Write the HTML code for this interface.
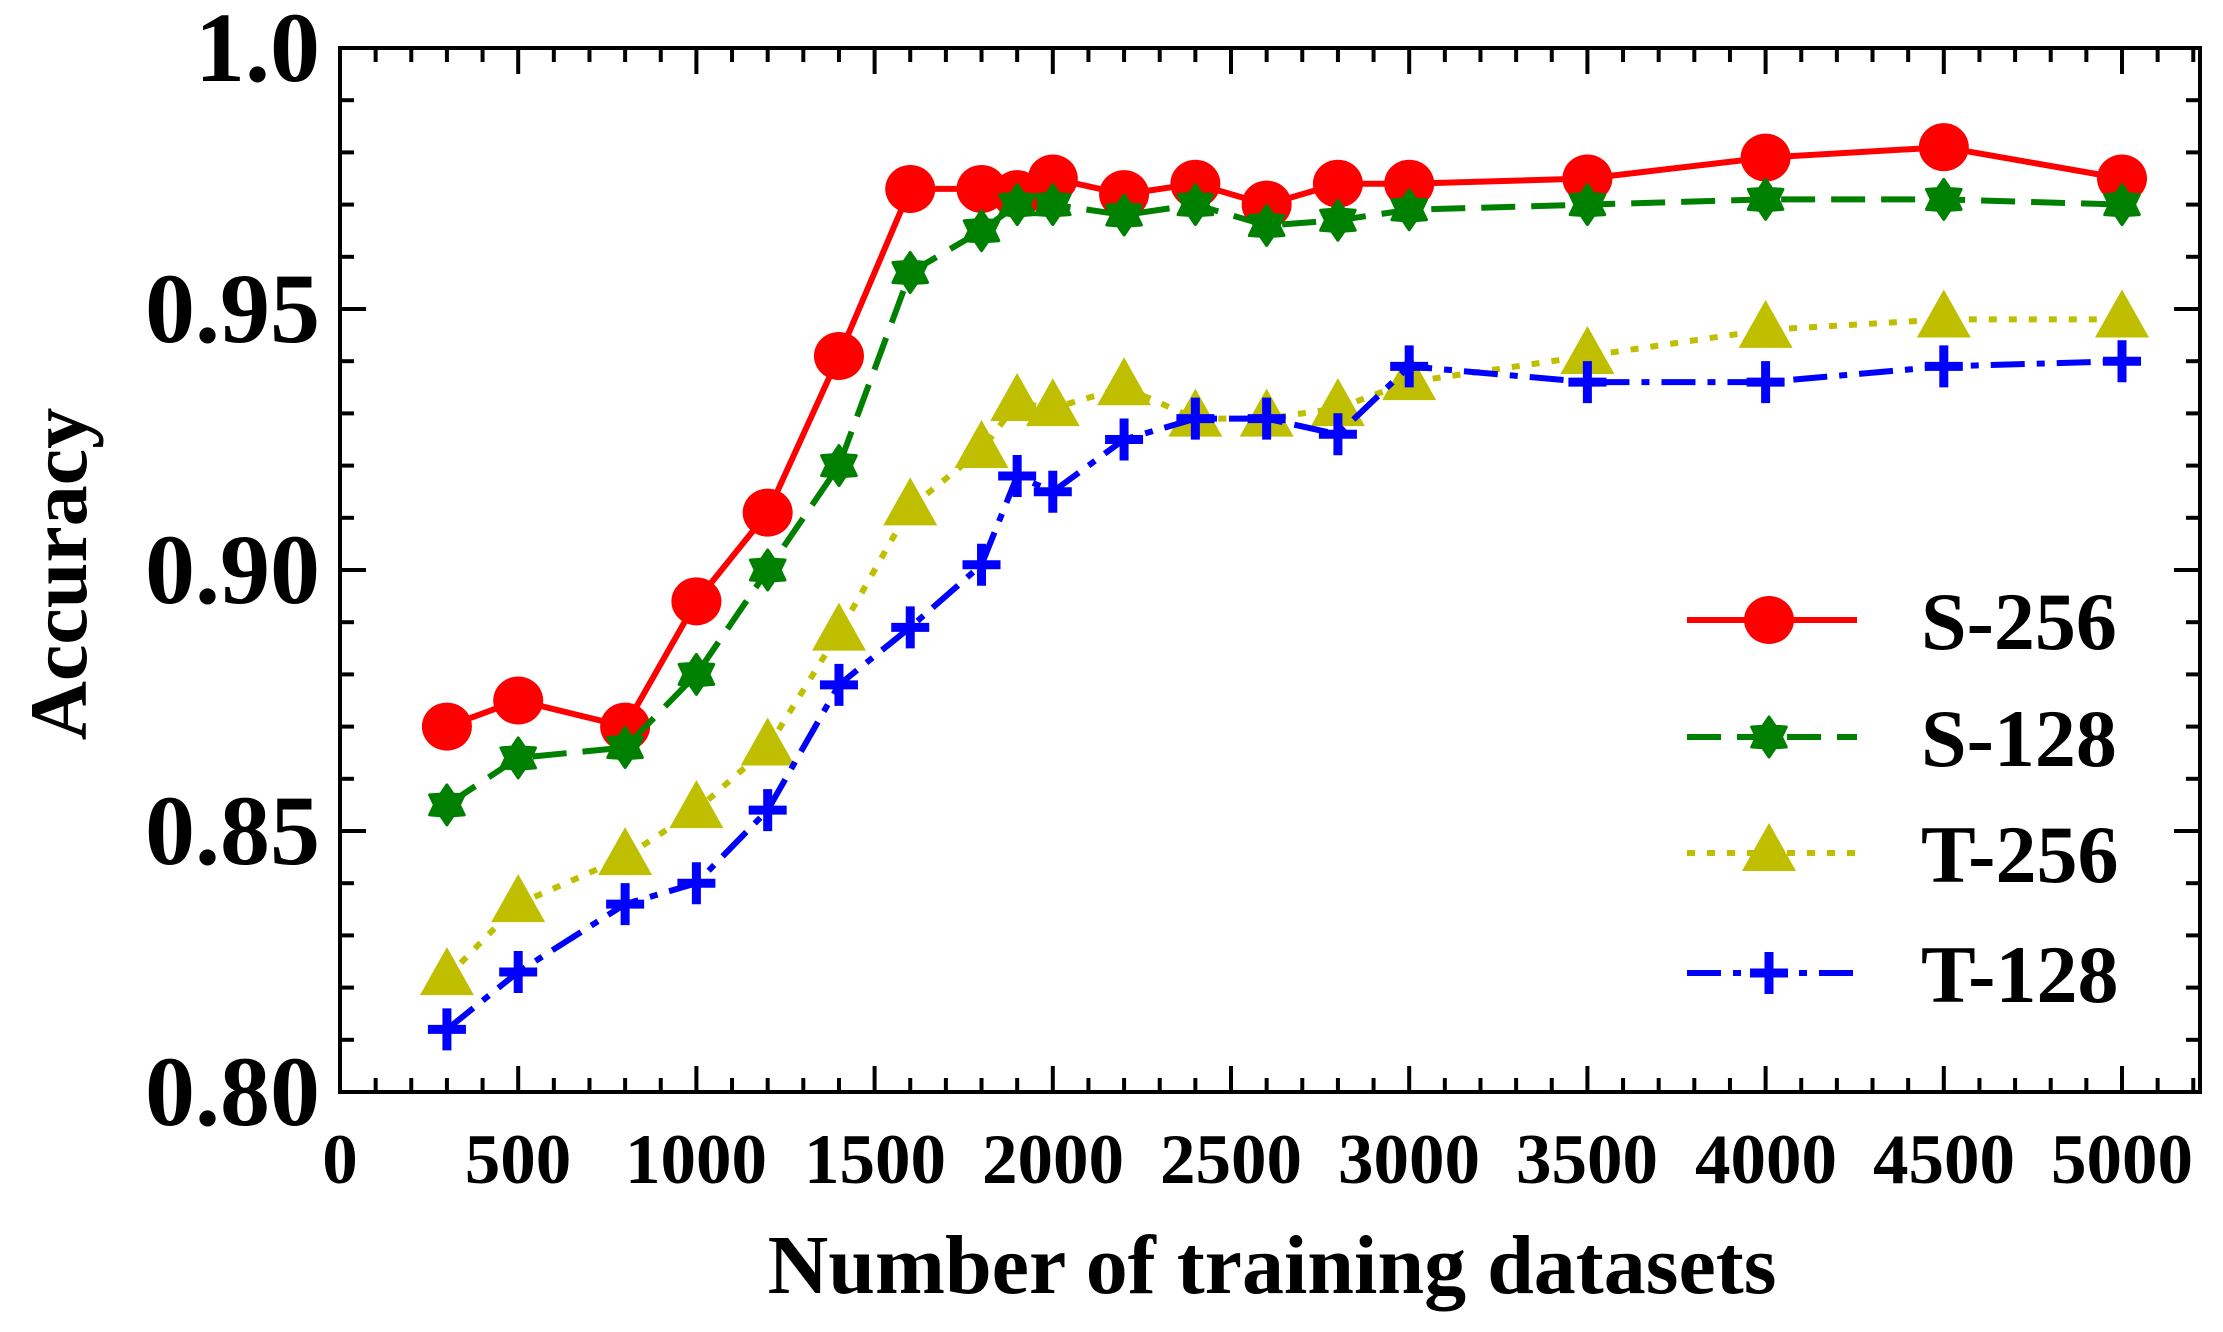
<!DOCTYPE html>
<html><head><meta charset="utf-8">
<style>
html,body{margin:0;padding:0;background:#fff;}
svg{display:block;}
text{font-family:"Liberation Serif",serif;font-weight:bold;fill:#000;}
</style></head>
<body>
<svg id="s" width="2223" height="1332" viewBox="0 0 2223 1332" xmlns="http://www.w3.org/2000/svg">
<rect x="0" y="0" width="2223" height="1332" fill="#fff"/>
<g id="ticks"></g>
<g id="series"></g>
<rect x="340" y="48" width="1860" height="1044" fill="none" stroke="#000" stroke-width="4"/>
<g font-size="100" text-anchor="end">
<text x="320" y="81">1.0</text>
<text x="320" y="342">0.95</text>
<text x="320" y="603">0.90</text>
<text x="320" y="864">0.85</text>
<text x="320" y="1125">0.80</text>
</g>
<g font-size="71" text-anchor="middle" id="xl">
<text x="340" y="1183">0</text>
<text x="518" y="1183">500</text>
<text x="696" y="1183">1000</text>
<text x="875" y="1183">1500</text>
<text x="1053" y="1183">2000</text>
<text x="1231" y="1183">2500</text>
<text x="1409" y="1183">3000</text>
<text x="1587" y="1183">3500</text>
<text x="1766" y="1183">4000</text>
<text x="1944" y="1183">4500</text>
<text x="2122" y="1183">5000</text>
</g>
<text x="1272" y="1293" font-size="84" text-anchor="middle">Number of training datasets</text>
<text transform="translate(86,574) rotate(-90)" font-size="82" text-anchor="middle">Accuracy</text>
<g id="legend"></g>
<g font-size="82">
<text x="1921" y="649">S-256</text>
<text x="1921" y="766">S-128</text>
<text x="1921" y="882">T-256</text>
<text x="1921" y="1002">T-128</text>
</g>
</svg>
<script>
var NS="http://www.w3.org/2000/svg";
function el(t,a,p){var e=document.createElementNS(NS,t);for(var k in a)e.setAttribute(k,a[k]);p.appendChild(e);return e;}
var X=function(v){return 340+v*0.3564;}, Y=function(v){return 48+(1-v)*5220;};
var tk=document.getElementById('ticks');
for(var v=0;v<=5200;v+=100){var x=X(v),L=(v%500==0)?26:14;
 el('line',{x1:x,y1:1092,x2:x,y2:1092-L,stroke:'#000','stroke-width':4},tk);
 el('line',{x1:x,y1:48,x2:x,y2:48+L,stroke:'#000','stroke-width':4},tk);}
for(var i=0;i<=20;i++){var y=Y(0.8+i*0.01),L=(i%5==0)?26:14;
 el('line',{x1:340,y1:y,x2:340+L,y2:y,stroke:'#000','stroke-width':4},tk);
 el('line',{x1:2200,y1:y,x2:2200-L,y2:y,stroke:'#000','stroke-width':4},tk);}
var xs=[300,500,800,1000,1200,1400,1600,1800,1900,2000,2200,2400,2600,2800,3000,3500,4000,4500,5000];
var D=[
 {c:'#ff0000',d:'',m:'o',y:[0.870,0.875,0.870,0.894,0.911,0.941,0.973,0.973,0.972,0.975,0.972,0.974,0.970,0.974,0.974,0.975,0.979,0.981,0.975]},
 {c:'#008000',d:'34 16',m:'s',y:[0.855,0.864,0.866,0.880,0.900,0.920,0.957,0.965,0.970,0.970,0.968,0.970,0.966,0.967,0.969,0.970,0.971,0.971,0.970]},
 {c:'#bfbf00',d:'8 12',m:'t',y:[0.822,0.836,0.845,0.854,0.866,0.888,0.912,0.923,0.932,0.931,0.935,0.929,0.929,0.931,0.936,0.941,0.946,0.948,0.948]},
 {c:'#0000ff',d:'34 12 8 12',m:'p',y:[0.812,0.823,0.836,0.840,0.854,0.878,0.889,0.901,0.918,0.915,0.925,0.929,0.929,0.926,0.939,0.936,0.936,0.939,0.940]}
];
function marker(m,x,y,c,g){
 if(m=='o')el('ellipse',{cx:x,cy:y,rx:25,ry:24,fill:c},g);
 else if(m=='t')el('polygon',{points:(x)+','+(y-30)+' '+(x-27)+','+(y+18)+' '+(x+27)+','+(y+18),fill:c},g);
 else if(m=='s'){var p=[];for(var k=0;k<12;k++){var r=(k%2==0)?20:12.5,a=Math.PI/6*k-Math.PI/2;p.push((x+r*Math.cos(a)).toFixed(1)+','+(y+r*Math.sin(a)).toFixed(1));}
  el('polygon',{points:p.join(' '),fill:c,stroke:c,'stroke-width':3,'stroke-linejoin':'round'},g);}
 else {el('line',{x1:x-19,y1:y,x2:x+19,y2:y,stroke:c,'stroke-width':9},g);el('line',{x1:x,y1:y-21,x2:x,y2:y+21,stroke:c,'stroke-width':9},g);}
}
var sg=document.getElementById('series'),lg=document.getElementById('legend');
var ly=[620,737,853,973];
D.forEach(function(s,j){
 var pts=xs.map(function(v,i){return X(v).toFixed(1)+','+Y(s.y[i]).toFixed(1);}).join(' ');
 var a={points:pts,fill:'none',stroke:s.c,'stroke-width':6,'stroke-linejoin':'round'};if(s.d)a['stroke-dasharray']=s.d;
 el('polyline',a,sg);
 xs.forEach(function(v,i){marker(s.m,X(v),Y(s.y[i]),s.c,sg);});
 var b={x1:1687,y1:ly[j],x2:1857,y2:ly[j],stroke:s.c,'stroke-width':6};if(s.d)b['stroke-dasharray']=s.d;
 el('line',b,lg);marker(s.m,1769,ly[j],s.c,lg);
});
</script>
</body></html>
